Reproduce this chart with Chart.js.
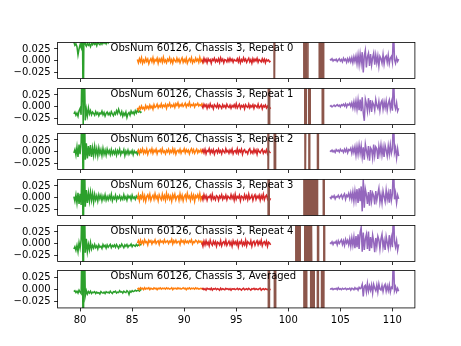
<!DOCTYPE html>
<html>
<head>
<meta charset="utf-8">
<script src="https://cdn.jsdelivr.net/npm/chart.js@4.4.1/dist/chart.umd.min.js"></script>
<style>
  html, body { margin: 0; padding: 0; background: #fff; }
  #wrap { position: relative; width: 461px; height: 346px; overflow: hidden; }
  #wrap canvas { position: absolute; left: 0; }
</style>
</head>
<body>
<div id="wrap"></div>
<script>
const titles = [
  "ObsNum 60126, Chassis 3, Repeat 0",
  "ObsNum 60126, Chassis 3, Repeat 1",
  "ObsNum 60126, Chassis 3, Repeat 2",
  "ObsNum 60126, Chassis 3, Repeat 3",
  "ObsNum 60126, Chassis 3, Repeat 4",
  "ObsNum 60126, Chassis 3, Averaged"
];
const xTicks = [80, 85, 90, 95, 100, 105, 110];
const yTicks = [-0.025, 0, 0.025];

// channel grid of each band (GHz)
const greenStart = 79.4, orangeStart = 85.5, redStart = 91.7, purpleStart = 104.0;
const chanStep = 0.1;

// spectra, one row per panel, in units of 0.001
const green = [
  [40, 33, 36, 30, 12, 25, 34, 28, 150, -150, 150, 35, 31, 38, 33, 36, 30, 37, 34, 39,
   35, 38, 32, 40, 36, 34, 39, 35, 41, 37, 40, 36, 43, 38, 41, 45, 42, 47, 44, 48,
   46, 50, 47, 52, 49, 51, 54, 50, 53, 56, 52, 55, 58, 54, 57, 55, 59, 56, 60, 57,
   61, 58, 60, 62, 59, 61],
  [-16, -12, -19, -14, -21, -9, -4, -18, 120, -45, 110, -30, -6, -20, -3, -16, -9, -18, -12, -15,
   -19, -11, -17, -13, -20, -14, -16, -10, -18, -13, -21, -15, -12, -18, -14, -19, -11, -16, -20, -13,
   -17, -9, -15, -6, -13, -18, -11, -21, -14, -19, -12, -24, -16, -13, -19, -10, -15, -12, -17, -9,
   -14, -8, -12, -10, -13, -11],
  [-3, 4, -8, 10, -12, 15, -6, 20, 130, -130, 130, -18, 18, -15, 12, -10, 14, -12, 8, -9,
   11, -7, 6, -10, 8, -5, 4, -9, 7, -6, 3, -8, 5, -4, 2, -7, 4, -6, 1, -5,
   3, -8, 2, -4, 5, -7, 0, -3, 4, -9, 1, -5, 3, -6, 0, -4, 2, -7, 1, -3,
   -1, -6, 2, -4, 0, -2],
  [2, -8, 6, -12, 10, -14, 8, -16, 130, -130, 130, -20, 16, -12, 10, -8, 12, -6, 9, -10,
   7, -5, 4, -8, 6, -3, 5, -7, 3, -4, 6, -6, 2, -5, 4, -3, 7, -7, 1, -3,
   5, -6, 2, -2, 4, -5, 1, -4, 6, -3, 2, -6, 4, -1, 3, -5, 5, -2, 1, -4,
   3, -1, 2, -3, 4, 1],
  [-12, -7, -15, -4, -18, 2, -10, 8, 130, -130, 130, -20, 10, -18, -2, -14, 2, -12, -4, -10,
   -2, -9, -5, -12, -3, -8, -6, -11, -2, -7, -4, -10, -3, -8, -5, -2, -9, -4, -7, -3,
   -8, -2, -6, -10, -4, -7, -1, -5, -9, -3, -6, -2, -8, -4, -5, -1, -7, -3, -4, -6,
   -2, -5, -3, -4, -2, -3],
  [-5, -3, -7, -4, -8, -2, -6, -9, 140, -140, 140, -14, -3, -10, -5, -8, -4, -9, -6, -7,
   -5, -9, -6, -8, -7, -10, -5, -7, -8, -6, -9, -5, -7, -6, -8, -4, -7, -9, -5, -6,
   -4, -8, -6, -7, -3, -6, -5, -8, -4, -6, -7, -3, -5, -11, -4, -6, -3, -5, -4, -2,
   -4, -3, -2, -4, -1, -2]
];
const orange = [
  [2, -5, 4, -3, 6, -6, 1, -4, 5, -2, 3, -7, 0, 4, -3, 6, -5, 2, -1, 5,
   -6, 3, -2, 4, -4, 7, -3, 1, -5, 3, -1, 6, -4, 2, -6, 4, 0, -3, 5, -2,
   3, -5, 1, 6, -4, 2, -3, 5, -6, 0, 4, -2, 6, -5, 1, -3, 5, -1, 3, -4,
   7, -2, 2, -5, 1],
  [-3, -8, -1, -6, 1, -5, -2, -7, 2, -4, 0, -5, 3, -3, 1, -6, 4, -2, 0, 5,
   -3, 2, -1, 6, -2, 3, 0, 5, -4, 4, 1, 7, -1, 3, 0, 5, -2, 6, 2, 8,
   -1, 4, 1, 6, 0, 3, 7, -1, 5, 2, 9, 0, 4, 2, 6, -1, 5, 3, 7, 1,
   4, 2, 6, 0, 3],
  [-2, 3, -5, 4, -1, 6, -4, 2, -3, 5, -6, 1, 4, -2, 6, -4, 3, -1, 5, -5,
   2, 0, 4, -3, 6, -2, 1, -5, 3, -1, 5, -4, 2, -2, 6, -3, 4, -6, 1, 3,
   -2, 5, -4, 2, 0, 6, -3, 4, -1, 3, -5, 2, 6, -2, 4, -4, 1, 5, -3, 2,
   -1, 4, -2, 3, 1],
  [-4, 6, -7, 3, -2, 8, -5, 4, -8, 2, 6, -3, 7, -6, 1, 5, -4, 8, -2, 3,
   -7, 6, 0, -5, 7, -3, 4, -6, 9, -2, 5, -4, 3, -8, 6, -1, 7, -5, 2, 4,
   -6, 8, -3, 5, -7, 2, 6, -4, 9, -1, 3, -6, 7, -2, 5, -8, 4, 0, 6, -3,
   8, -5, 2, 4, -2],
  [1, 6, -2, 7, 0, 5, -1, 8, 2, 4, -3, 7, 3, 6, -1, 5, 2, 8, 0, 4,
   6, -2, 7, 3, 5, 1, 8, 2, 4, 6, 0, 5, 3, 9, -1, 6, 2, 7, 1, 4,
   5, -2, 8, 3, 6, 0, 7, 2, 5, 1, 6, 3, 8, -1, 4, 2, 7, 5, 1, 6,
   3, 5, 0, 4, 2],
  [0, 2, -1, 3, 1, 2, -1, 3, 0, 2, 1, 3, -1, 2, 1, 0, 3, 1, 2, -1,
   2, 1, 3, 0, 2, 1, 2, 0, 3, 1, 2, 0, 1, 3, -1, 2, 1, 2, 0, 3,
   1, 2, 0, 1, 3, 1, 2, -1, 2, 1, 3, 0, 2, 1, 2, 0, 3, 1, 2, 0,
   1, 2, 1, 0, 1]
];
const red = [
  [1, -4, 5, -2, 3, -5, 4, -1, 2, -6, 3, 0, 5, -3, 2, -2, 4, -4, 6, -1,
   3, -5, 2, 1, -3, 4, -2, 5, -1, 3, -4, 2, 0, -1, 4, -3, 5, -5, 2, -2,
   6, -1, 3, -4, 1, 5, -3, 2, -6, 4, -2, 3, -1, 5, -4, 2, 0, -3, 4, -2,
   3, -5, 2, -1, 1, -3, -1],
  [2, -3, 5, 0, 4, -4, 3, -2, 6, -1, 2, -5, 4, 1, -2, 5, -3, 3, 0, -4,
   4, -1, 2, -3, 5, 0, -2, 3, -4, 2, -1, 4, -2, 6, -3, 1, 5, -4, 2, -1,
   3, -5, 4, 0, -2, 5, -3, 2, -1, 4, -4, 3, 1, -2, 5, -3, 0, 4, -5, 2,
   -1, 3, -3, 1, -4, -2, -5],
  [-1, 4, -3, 5, -5, 2, 0, 6, -4, 3, -2, 4, -6, 1, 3, -3, 5, -2, 2, -5,
   4, 0, -3, 6, -1, 2, -4, 3, -2, 5, -5, 1, 2, -3, 6, -4, 3, -1, 5, -6,
   2, 4, -2, 0, -5, 3, 6, -3, 1, -4, 5, -2, 3, -6, 4, 0, -3, 2, 5, -4,
   1, -2, 4, -5, 2, -1, -3],
  [3, -5, 6, -2, 4, -6, 2, 0, 5, -4, 7, -3, 1, -5, 4, 2, -6, 3, -1, 6,
   -4, 2, -2, 5, -5, 3, 0, -3, 6, -2, 4, -6, 7, -4, 2, -1, 5, -7, 3, 1,
   -4, 6, -2, 4, -5, 7, -3, 0, 5, -6, 2, 6, -4, 3, -1, 5, -6, 4, -2, 7,
   -5, 2, 5, -3, 4, -6, -2],
  [2, -6, 5, -3, 6, -2, 3, -5, 7, 0, -4, 5, -1, 4, -6, 3, 1, -3, 6, -5,
   2, 4, -2, 7, -4, 1, 5, -3, 3, -6, 6, -1, 4, -2, 5, -7, 3, 0, 6, -4,
   2, -3, 7, -5, 4, 1, -2, 6, -6, 3, 5, -4, 2, 6, -3, 4, -1, 7, -5, 2,
   4, -2, 5, -6, 3, 1, -3],
  [0, 2, -1, 1, -2, 2, 0, 1, -1, 2, -2, 1, 0, 2, -1, 1, 0, -2, 2, -1,
   1, 0, -1, 2, 0, 1, -1, 1, -2, 1, 0, 1, -1, 0, 2, -1, 1, 0, -2, 1,
   2, -1, 0, 1, -1, 2, 0, -2, 1, 0, 2, -1, 1, 0, -1, 1, 2, -2, 0, 1,
   -1, 1, 0, -1, 1, 0, -1]
];
const purple = [
  [3, 1, 4, -1, 2, 0, 3, -2, 1, 4, -1, 2, -3, 5, 0, 3, -4, 4, -2, 5,
   -3, 6, -5, 8, -2, 10, -7, 12, -9, 14, -6, 18, -26, 10, 22, -15, 8, 16, -12, 14,
   -10, 6, 16, -9, 12, -5, 10, -12, 9, 4, -6, 13, -8, 7, 10, -4, 12, -7, 5, 9,
   -4, 75, 2, -6, 6, -2, 3],
  [0, 2, -1, 1, 3, 0, 2, 4, 1, 3, -1, 4, 2, 5, 1, 6, -1, 5, 3, 7,
   0, 8, -3, 10, -4, 12, -6, 14, -8, 15, -10, 20, -14, -31, 16, 6, -10, 18, -6, 14,
   -12, 9, 4, -8, 15, 2, -4, 11, -9, 8, 13, -6, 10, -3, 12, -8, 6, 14, -5, 9,
   -9, 75, 4, -5, 8, -10, -4],
  [2, 0, 3, -1, 2, -2, 4, 1, 3, -1, 5, 1, 3, -2, 5, 0, 6, -3, 4, 2,
   7, -4, 8, -2, 10, -8, 11, -6, 14, -4, 12, -12, 9, -18, 16, 2, -10, 12, -20, 8,
   4, -14, 15, -9, 10, 6, -16, 11, -5, 14, -8, 9, -12, 13, 3, -10, 12, -6, 15, -4,
   6, 80, -2, 8, -14, 6, -10],
  [1, -2, 3, 0, 4, -3, 2, 1, 5, -1, 3, 6, -2, 4, 8, -4, 5, 2, 9, -2,
   10, -4, 12, -8, 14, -6, 18, -12, 20, -8, 24, -30, 40, -22, 18, 6, -14, 12, -18, 16,
   -8, 10, 4, -15, 14, -6, 8, 20, -10, 6, -12, 14, 2, -9, 16, -4, 10, -11, 18, -6,
   8, 80, -4, 10, -12, 5, -3],
  [2, 0, 4, -2, 3, 1, 5, -3, 6, 0, 4, 8, -2, 6, -4, 9, 1, 7, -3, 10,
   -6, 12, -4, 14, -10, 16, -8, 20, -12, 24, 35, -18, 24, -14, 10, 20, -12, 26, -16, 14,
   -10, 18, 4, -19, 12, -6, 16, 8, -12, 10, 20, -8, 6, -14, 15, 2, -10, 18, -5, 12,
   -8, 80, 4, -8, 6, -15, -2],
  [1, 0, 2, -1, 1, 0, 2, -1, 3, 0, 1, -1, 2, 0, 1, 2, -1, 1, 0, 2,
   -2, 2, 1, -1, 3, 0, 2, -2, 4, 1, 3, 10, -15, 6, 8, -6, 12, -4, 7, -2,
   9, -8, 10, 2, -3, 9, -6, 11, 0, -2, 8, -5, 6, 10, -4, 7, -3, 9, -6, 4,
   2, 80, -3, 5, -5, 2, -4]
];
// brown band is off scale; these are the frequencies where it swings through the plot
const brownCross = [
  [98.63, 98.73, 101.49, 101.61, 101.73, 101.89, 102.97, 103.11, 103.25, 103.39],
  [98.08, 98.2, 101.58, 101.72, 101.96, 102.1, 103.26, 103.38],
  [98.05, 98.15, 98.65, 98.77, 101.6, 101.7, 101.98, 102.06, 102.8, 102.88],
  [98.06, 98.16, 101.5, 101.62, 101.74, 101.86, 101.98, 102.1, 102.22, 102.34, 102.46, 102.58, 102.7, 102.8, 103.36, 103.44],
  [100.72, 100.86, 101.0, 101.14, 101.58, 101.7, 101.82, 101.94, 102.06, 102.18, 102.28, 102.8, 102.9, 103.4, 103.48],
  [98.08, 98.18, 98.66, 98.78, 101.5, 101.62, 101.76, 102.14, 102.26, 102.38, 102.48, 102.78, 102.88, 103.18, 103.3, 103.42]
];
const brownLevel = 200;

function spectrum(start, vals) {
  return vals.map((v, i) => ({ x: +(start + i * chanStep).toFixed(2), y: v / 1000 }));
}
function brownPoints(cross) {
  const pts = [];
  let s = 1;
  cross.forEach(c => {
    pts.push({ x: c - 0.01, y: s * brownLevel / 1000 });
    pts.push({ x: c + 0.01, y: -s * brownLevel / 1000 });
    s = -s;
  });
  return pts;
}
function fmtY(v) {
  return v.toFixed(3).replace('-', '\u2212');
}

Chart.defaults.font.family = '"DejaVu Sans", sans-serif';
Chart.defaults.font.size = 10;
Chart.defaults.color = '#000';

const W = 461, H = 346;
const axLeft = 57.6, axRight = 414.9;
const top0 = 41.52, panelH = 38.06, panelStep = 45.67;
const xMin = 77.84, xMax = 112.16, yMin = -0.039, yMax = 0.039;

const wrap = document.getElementById('wrap');

for (let p = 0; p < 6; p++) {
  const top = top0 + p * panelStep;
  const bottom = top + panelH;
  const last = p === 5;
  const cTop = Math.floor(top) - 8;
  const cBot = last ? H : Math.ceil(bottom) + 8;

  const cv = document.createElement('canvas');
  cv.width = W;
  cv.height = cBot - cTop;
  cv.style.width = W + 'px';
  cv.style.height = (cBot - cTop) + 'px';
  cv.style.top = cTop + 'px';
  wrap.appendChild(cv);

  const line = (data, color) => ({
    data: data,
    borderColor: color,
    backgroundColor: color,
    borderWidth: 1.5,
    pointRadius: 0,
    tension: 0,
    fill: false,
    clip: 0
  });

  const framePlugin = {
    id: 'frame' + p,
    afterDraw(chart) {
      const a = chart.chartArea;
      const ctx = chart.ctx;
      ctx.save();
      ctx.fillStyle = '#000';
      ctx.font = '10px "DejaVu Sans"';
      ctx.textAlign = 'left';
      ctx.textBaseline = 'alphabetic';
      ctx.fillText(titles[p], a.left + 53, a.top + 8.2);
      ctx.strokeStyle = '#000';
      ctx.lineWidth = 0.8;
      ctx.strokeRect(a.left, a.top, a.right - a.left, a.bottom - a.top);
      ctx.restore();
    }
  };

  new Chart(cv, {
    type: 'line',
    data: {
      datasets: [
        line(spectrum(purpleStart, purple[p]), '#9467bd'),
        line(brownPoints(brownCross[p]), '#8c564b'),
        line(spectrum(redStart, red[p]), '#d62728'),
        line(spectrum(orangeStart, orange[p]), '#ff7f0e'),
        line(spectrum(greenStart, green[p]), '#2ca02c')
      ]
    },
    options: {
      responsive: false,
      animation: false,
      devicePixelRatio: 1,
      events: [],
      layout: { padding: { left: 0, right: W - axRight, top: top - cTop, bottom: 0 } },
      plugins: { legend: { display: false }, tooltip: { enabled: false }, title: { display: false } },
      scales: {
        x: {
          type: 'linear',
          min: xMin,
          max: xMax,
          afterBuildTicks: s => { s.ticks = xTicks.map(v => ({ value: v })); },
          afterFit: s => { s.height = cBot - bottom; },
          border: { display: false },
          grid: { drawOnChartArea: false, drawTicks: true, tickLength: 3.5, tickWidth: 0.8, tickColor: '#000' },
          ticks: { display: last, color: '#000', padding: 3, maxRotation: 0, autoSkip: false, font: { size: 10 } }
        },
        y: {
          type: 'linear',
          min: yMin,
          max: yMax,
          afterBuildTicks: s => { s.ticks = yTicks.map(v => ({ value: v })); },
          afterFit: s => { s.width = axLeft; },
          border: { display: false },
          grid: { drawOnChartArea: false, drawTicks: true, tickLength: 3.5, tickWidth: 0.8, tickColor: '#000' },
          ticks: { color: '#000', padding: 3.5, autoSkip: false, font: { size: 10 }, callback: v => fmtY(v) }
        }
      }
    },
    plugins: [framePlugin]
  });
}
</script>
</body>
</html>
